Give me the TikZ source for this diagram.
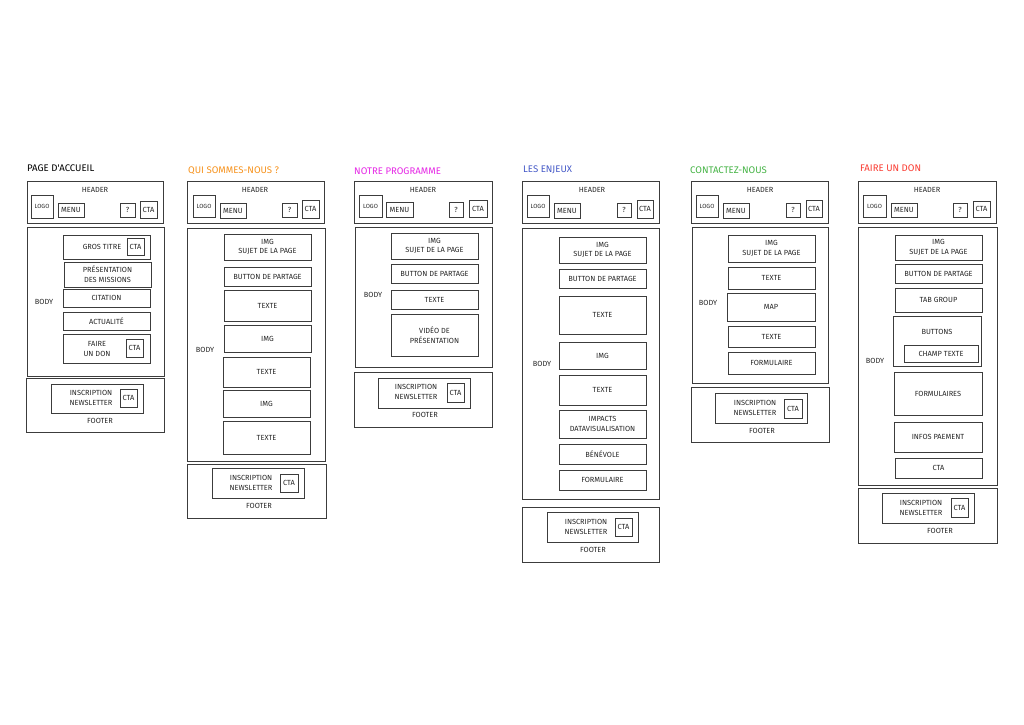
\documentclass[tikz,border=0pt]{standalone}
\usepackage{fontspec}
\newfontfamily\hand{Fira Sans}
\newcommand\wfont{\hand\fontsize{7.4}{9.8}\selectfont}
\newcommand\sfnt{\hand\fontsize{6}{7}\selectfont}
\newcommand\tfont{\hand\fontsize{9.6}{10}\selectfont}
\definecolor{cOrange}{RGB}{247,147,30}
\definecolor{cMagenta}{RGB}{230,40,230}
\definecolor{cBlue}{RGB}{70,90,200}
\definecolor{cGreen}{RGB}{70,180,70}
\definecolor{cRed}{RGB}{250,60,50}
\definecolor{cLine}{RGB}{60,60,60}
\tikzset{
  wbox/.style={draw=cLine, line width=0.75pt, inner sep=0pt, align=center, font=\wfont, text=black!85},
  lbl/.style={inner sep=0pt, align=center, font=\wfont, text=black!85},
  ttl/.style={anchor=west, inner sep=0pt, font=\tfont},
}
\newcommand\bx[6]{\node[wbox, minimum width={(#4-#2)*1pt}, minimum height={(#5-#3)*1pt}] (#1) at ({(#2+#4)/2},{(#3+#5)/2}) {#6};}
\begin{document}
\begin{tikzpicture}[x=1pt,y=-1pt]
\fill[white] (0,0) rectangle (1024,724);
\useasboundingbox (0,0) rectangle (1024,724);

% ---------- Column 1: Page d'accueil
\node[ttl, text=black] (c1t) at (27,168) {PAGE D'ACCUEIL};
\bx{c1h}{27}{181}{163}{223}{}
\node[lbl] (c1hl) at (95,190) {HEADER};
\bx{c1logo}{31}{195}{53}{218}{\sfnt LOGO}
\bx{c1menu}{58}{203}{84}{217}{MENU}
\bx{c1q}{120}{203}{135}{217}{?}
\bx{c1cta}{140}{201}{157}{218}{CTA}
\bx{c1b}{27}{227}{164}{376}{}
\node[lbl] (c1bl) at (44,302) {BODY};
\bx{c1b1}{63}{235}{150}{259}{}
\node[lbl] (c1b1l) at (102,247) {GROS TITRE};
\bx{c1b1c}{127}{238}{144}{255}{CTA}
\bx{c1b2}{64}{262}{151}{287}{PRÉSENTATION\\DES MISSIONS}
\bx{c1b3}{63}{289}{150}{307}{CITATION}
\bx{c1b4}{63}{312}{150}{330}{ACTUALITÉ}
\bx{c1b5}{63}{334}{150}{363}{}
\node[lbl] (c1b5l) at (97,349) {FAIRE\\UN DON};
\bx{c1b5c}{126}{339}{143}{357}{CTA}
\bx{c1f}{26}{378}{164}{432}{}
\node[lbl] (c1fl) at (100,421) {FOOTER};
\bx{c1fi}{51}{384}{143}{413}{}
\node[lbl] (c1fil) at (91,398) {INSCRIPTION\\NEWSLETTER};
\bx{c1fc}{120}{389}{137}{407}{CTA}

% ---------- Column 2: Qui sommes-nous ?
\node[ttl, text=cOrange] (c2t) at (188,171) {QUI SOMMES-NOUS ?};
\bx{c2h}{187}{181}{324}{223}{}
\node[lbl] (c2hl) at (255,190) {HEADER};
\bx{c2logo}{193}{195}{215}{217}{\sfnt LOGO}
\bx{c2menu}{220}{203}{246}{218}{MENU}
\bx{c2q}{282}{203}{297}{217}{?}
\bx{c2cta}{302}{200}{319}{218}{CTA}
\bx{c2b}{187}{228}{325}{461}{}
\node[lbl] (c2bl) at (205,350) {BODY};
\bx{c2b1}{224}{234}{311}{260}{IMG\\SUJET DE LA PAGE}
\bx{c2b2}{224}{267}{311}{286}{BUTTON DE PARTAGE}
\bx{c2b3}{224}{290}{311}{321}{TEXTE}
\bx{c2b4}{224}{325}{311}{352}{IMG}
\bx{c2b5}{223}{357}{310}{387}{TEXTE}
\bx{c2b6}{223}{390}{310}{417}{IMG}
\bx{c2b7}{223}{421}{310}{454}{TEXTE}
\bx{c2f}{187}{464}{326}{518}{}
\node[lbl] (c2fl) at (259,506) {FOOTER};
\bx{c2fi}{212}{468}{304}{498}{}
\node[lbl] (c2fil) at (251,483) {INSCRIPTION\\NEWSLETTER};
\bx{c2fc}{280}{474}{298}{492}{CTA}

% ---------- Column 3: Notre programme
\node[ttl, text=cMagenta] (c3t) at (354,171) {NOTRE PROGRAMME};
\bx{c3h}{354}{181}{492}{223}{}
\node[lbl] (c3hl) at (423,190) {HEADER};
\bx{c3logo}{359}{195}{382}{217}{\sfnt LOGO}
\bx{c3menu}{386}{202}{413}{217}{MENU}
\bx{c3q}{449}{202}{463}{217}{?}
\bx{c3cta}{469}{200}{487}{217}{CTA}
\bx{c3b}{355}{227}{492}{367}{}
\node[lbl] (c3bl) at (373,295) {BODY};
\bx{c3b1}{391}{233}{478}{259}{IMG\\SUJET DE LA PAGE}
\bx{c3b2}{391}{264}{478}{283}{BUTTON DE PARTAGE}
\bx{c3b3}{391}{290}{478}{309}{TEXTE}
\bx{c3b4}{391}{314}{478}{356}{VIDÉO DE\\PRÉSENTATION}
\bx{c3f}{354}{372}{492}{427}{}
\node[lbl] (c3fl) at (425,415) {FOOTER};
\bx{c3fi}{378}{378}{470}{408}{}
\node[lbl] (c3fil) at (416,392) {INSCRIPTION\\NEWSLETTER};
\bx{c3fc}{447}{383}{464}{402}{CTA}

% ---------- Column 4: Les enjeux
\node[ttl, text=cBlue] (c4t) at (523,170) {LES ENJEUX};
\bx{c4h}{522}{181}{659}{223}{}
\node[lbl] (c4hl) at (592,190) {HEADER};
\bx{c4logo}{527}{195}{549}{217}{\sfnt LOGO}
\bx{c4menu}{554}{203}{580}{218}{MENU}
\bx{c4q}{617}{203}{631}{217}{?}
\bx{c4cta}{637}{200}{653}{218}{CTA}
\bx{c4b}{522}{228}{659}{499}{}
\node[lbl] (c4bl) at (542,364) {BODY};
\bx{c4b1}{559}{237}{646}{263}{IMG\\SUJET DE LA PAGE}
\bx{c4b2}{559}{269}{646}{288}{BUTTON DE PARTAGE}
\bx{c4b3}{559}{296}{646}{334}{TEXTE}
\bx{c4b4}{559}{342}{646}{369}{IMG}
\bx{c4b5}{559}{375}{646}{405}{TEXTE}
\bx{c4b6}{559}{410}{646}{438}{IMPACTS\\DATAVISUALISATION}
\bx{c4b7}{559}{444}{646}{464}{BÉNÉVOLE}
\bx{c4b8}{559}{470}{646}{490}{FORMULAIRE}
\bx{c4f}{522}{507}{659}{562}{}
\node[lbl] (c4fl) at (593,550) {FOOTER};
\bx{c4fi}{547}{512}{638}{542}{}
\node[lbl] (c4fil) at (586,527) {INSCRIPTION\\NEWSLETTER};
\bx{c4fc}{615}{518}{632}{536}{CTA}

% ---------- Column 5: Contactez-nous
\node[ttl, text=cGreen] (c5t) at (690,170) {CONTACTEZ-NOUS};
\bx{c5h}{691}{181}{828}{223}{}
\node[lbl] (c5hl) at (760,190) {HEADER};
\bx{c5logo}{696}{195}{718}{217}{\sfnt LOGO}
\bx{c5menu}{723}{203}{749}{218}{MENU}
\bx{c5q}{786}{203}{800}{217}{?}
\bx{c5cta}{806}{200}{822}{217}{CTA}
\bx{c5b}{692}{227}{828}{383}{}
\node[lbl] (c5bl) at (708,303) {BODY};
\bx{c5b1}{728}{235}{815}{262}{IMG\\SUJET DE LA PAGE}
\bx{c5b2}{728}{267}{815}{289}{TEXTE}
\bx{c5b3}{727}{293}{815}{321}{MAP}
\bx{c5b4}{728}{326}{815}{347}{TEXTE}
\bx{c5b5}{728}{352}{815}{374}{FORMULAIRE}
\bx{c5f}{691}{387}{829}{442}{}
\node[lbl] (c5fl) at (762,431) {FOOTER};
\bx{c5fi}{715}{393}{807}{423}{}
\node[lbl] (c5fil) at (755,408) {INSCRIPTION\\NEWSLETTER};
\bx{c5fc}{784}{399}{802}{418}{CTA}

% ---------- Column 6: Faire un don
\node[ttl, text=cRed] (c6t) at (860,168) {FAIRE UN DON};
\bx{c6h}{858}{181}{996}{223}{}
\node[lbl] (c6hl) at (927,190) {HEADER};
\bx{c6logo}{863}{195}{886}{217}{\sfnt LOGO}
\bx{c6menu}{891}{203}{917}{217}{MENU}
\bx{c6q}{953}{203}{967}{217}{?}
\bx{c6cta}{973}{201}{990}{217}{CTA}
\bx{c6b}{858}{227}{997}{485}{}
\node[lbl] (c6bl) at (875,361) {BODY};
\bx{c6b1}{895}{235}{982}{260}{IMG\\SUJET DE LA PAGE}
\bx{c6b2}{895}{264}{982}{283}{BUTTON DE PARTAGE}
\bx{c6b3}{895}{288}{982}{312}{TAB GROUP}
\bx{c6b4}{893}{316}{981}{366}{}
\node[lbl] (c6b4l) at (937,332) {BUTTONS};
\bx{c6b4c}{904}{345}{978}{362}{CHAMP TEXTE}
\bx{c6b5}{894}{372}{982}{415}{FORMULAIRES}
\bx{c6b6}{894}{422}{982}{452}{INFOS PAEMENT}
\bx{c6b7}{895}{458}{982}{478}{CTA}
\bx{c6f}{858}{488}{997}{543}{}
\node[lbl] (c6fl) at (940,531) {FOOTER};
\bx{c6fi}{882}{493}{974}{523}{}
\node[lbl] (c6fil) at (921,508) {INSCRIPTION\\NEWSLETTER};
\bx{c6fc}{951}{498}{968}{517}{CTA}
\end{tikzpicture}
\end{document}
